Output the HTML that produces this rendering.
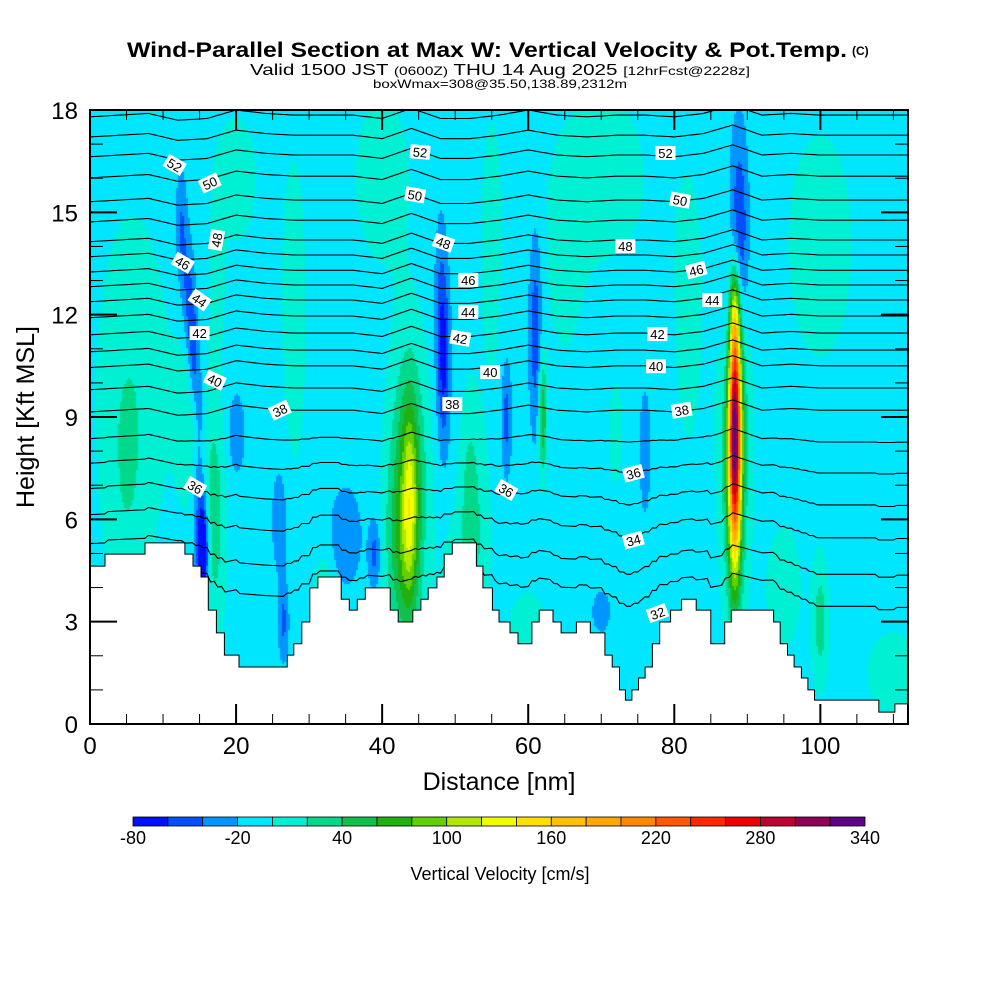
<!DOCTYPE html>
<html><head><meta charset="utf-8">
<style>
html,body{margin:0;padding:0;background:#fff;}
#wrap{position:relative;width:1000px;height:1000px;overflow:hidden;}
canvas{position:absolute;left:90px;top:110px;}
svg{position:absolute;left:0;top:0;}
text{font-family:"Liberation Sans",Arial,sans-serif;}
</style></head>
<body>
<div id="wrap">
<canvas id="field" width="818" height="614"></canvas>
<svg id="svg" width="1000" height="1000">
<g>
<text x="127" y="57" font-size="21" font-weight="bold" textLength="720" lengthAdjust="spacingAndGlyphs">Wind-Parallel Section at Max W: Vertical Velocity &amp; Pot.Temp.</text>
<text x="852" y="55" font-size="12" font-weight="bold">(C)</text>
<text x="250" y="75" font-size="16" textLength="500" lengthAdjust="spacingAndGlyphs">Valid 1500 JST <tspan font-size="12">(0600Z)</tspan> THU 14 Aug 2025 <tspan font-size="12">[12hrFcst@2228z]</tspan></text>
<text x="373" y="88" font-size="12" textLength="254" lengthAdjust="spacingAndGlyphs">boxWmax=308@35.50,138.89,2312m</text>
</g>
<g id="contours"></g>
<g id="terrain"></g>
<g id="labels"></g>
<g id="axes"></g>
<g id="cbar"></g>
<text x="499" y="790" font-size="25" text-anchor="middle">Distance [nm]</text>
<text transform="translate(34,417) rotate(-90)" font-size="25" text-anchor="middle">Height [Kft MSL]</text>
<text x="500" y="880" font-size="18" text-anchor="middle">Vertical Velocity [cm/s]</text>
</svg>
</div>
<script>
// ---- data ----
const xTicks = [0,20,40,60,80,100];
const yTicks = [0,3,6,9,12,15,18];
const cbarLevels = [-80,-20,40,100,160,220,280,340];
const cbarColors = ["#0010ff","#0050ff","#0096ff","#00e6ff","#00f0d4","#00d88c","#10c048","#20b010","#60d000","#b0e800","#f0ff00","#ffe000","#ffc000","#ffa800","#ff8800","#ff5800","#ff2800","#f00000","#c00030","#900058","#600088"];
// blobs: distance (nm), height (kft), amplitude (cm/s), sigma-d (nm), sigma-h (kft)
const blobD = [88.3,88.3,88.3,88.8,87.5, 43.8,43.6,42.5, 12.5,13.5,14.2,15,15.5,15, 17,14,17.5,6, 20,26,26.5,35,39, 48.5,48,57,61,62,52,53, 32,60,72,100,95,110, 76,70, 40,70,20,100,65, 28,55,82,5,50];
const blobH = [8.5,8.5,12,14,11.5, 6.5,7,5, 14.5,12.5,11,9.5,5,6.5, 6,9,13,10, 8.5,6,3,5.5,5, 10.5,12,9,11.5,9,7,5, 3.5,2.5,8.5,3,4,1.5, 8,3.3, 16,16,16,14,13, 12,14,12,7,4];
const blobA = [300,60,60,-70,-30, 75,58,35, -35,-40,-48,-33,-90,-42, 40,25,25,20, -30,-25,-35,-28,-40, -45,-30,-40,-45,70,30,20, 30,25,30,40,20,20, -30,-20, 20,20,15,18,15, 18,15,15,18,20];
const blobSD = [0.6,1.4,0.5,0.9,0.8, 0.8,1.9,1.5, 0.6,0.6,0.5,0.6,0.5,0.7, 1.2,1.5,0.6,4, 0.8,0.8,0.5,1.5,0.6, 0.6,0.6,0.5,0.6,0.4,1,1.5, 1,2,0.6,0.8,2,3, 0.5,1, 3,5,3,4,2, 1.5,1.5,2,2,1.5];
const blobSH = [2.6,3.6,1,2.2,1.5, 2,3,2, 1.2,1.2,1,1,1,1.5, 2.5,2,1.5,4, 0.8,1.2,0.8,1,0.7, 1.8,2,1.2,2,1.2,2,2, 1,1,1,1.3,1.5,1, 1.2,0.5, 2,2,2,3,2, 4,4,4,3,1.5];
const baseW = -10;
// terrain step profile
const terrD = [0,2.05,7.53,13.0,14.1,15.2,16.2,17.3,18.4,20.4,27.0,27.9,29.0,30.1,31.2,34.4,35.5,36.6,37.7,41.1,42.2,44.2,45.3,46.3,47.5,48.5,49.6,52.9,53.8,55.1,56.0,57.5,58.6,60.5,61.5,63.4,64.5,66.6,68.5,70.5,71.5,72.5,73.3,74.2,75.1,76.0,77.0,78.0,79.5,81.0,83.0,85.0,86.9,87.8,93.6,94.5,95.5,96.4,97.4,98.3,99.2,108.0,110.2];
const terrH = [4.63,4.98,5.31,4.98,4.63,4.31,3.34,2.67,2.02,1.67,2.02,2.35,2.99,3.99,4.31,3.66,3.34,3.66,3.99,3.34,2.99,3.34,3.66,3.99,4.31,4.98,5.31,4.63,3.99,3.34,2.99,2.67,2.35,2.99,3.34,2.99,2.67,2.99,2.67,2.02,1.67,1.0,0.7,1.0,1.35,1.67,2.35,2.99,3.34,3.66,3.34,2.35,2.99,3.34,2.99,2.35,2.02,1.67,1.35,1.0,0.7,0.35,0.59];
// potential temperature contours
const thetaLevels = [32,33,34,35,36,37,38,39,40,41,42,43,44,45,46,47,48,49,50,51,52,53,54];
const thetaBaseH = [3.25,4.22,5.33,6.33,7.3,8.24,9.2,9.85,10.5,10.96,11.46,11.96,12.43,12.87,13.3,13.75,14.19,14.77,15.36,16.06,16.68,17.26,17.85];
const pertD = [0,4,8,12,16,20,24,28,32,36,40,44,48,52,56,60,64,68,72,76,80,84,88,92,96,100,104,108,112];
const pertH = [-0.05,0,0.05,-0.15,-0.1,0.15,0.05,0,0,0,-0.1,0.2,-0.1,-0.1,0,0.15,0,-0.05,0,0,-0.05,0.05,0.3,0,0.05,0,0,0,0];
const labelText = [52,50,48,46,44,42,40,38,36, 52,50,48,46,44,42,40,38,36, 52,50,48,46,44,42,40,38,36,34,32];
const labelD = [11.6,16.4,17.3,12.7,15,15,17.1,26,14.4, 45.2,44.5,48.4,51.8,51.8,50.7,54.8,49.6,57, 78.8,80.8,73.3,83,85.2,77.7,77.5,81,74.4,74.4,77.7];
const labelH = [16.39,15.86,14.19,13.52,12.43,11.46,10.08,9.2,6.95, 16.77,15.51,14.11,13.02,12.08,11.31,10.32,9.38,6.86, 16.74,15.36,14.01,13.31,12.43,11.43,10.49,9.2,7.35,5.39,3.25];
const labelRot = [30,-25,-80,30,35,0,25,-25,30, 5,10,20,0,0,10,0,0,30, 0,10,0,-15,0,0,0,-10,-15,-15,-20];

// ---- scales ----
const X0=90,X1=908,Y0=724,Y1=110;
const xs = d => X0 + d*(X1-X0)/112;
const ys = h => Y0 - h*(Y0-Y1)/18;
const NS="http://www.w3.org/2000/svg";
function mk(tag, attrs, parent){const e=document.createElementNS(NS,tag);for(const k in attrs)e.setAttribute(k,attrs[k]);parent.appendChild(e);return e;}
function terrAt(d){let h=terrH[0];for(let i=0;i<terrD.length;i++){if(d>=terrD[i])h=terrH[i];}return h;}
function pertAt(d){for(let i=0;i<pertD.length-1;i++){if(d<=pertD[i+1]){const t=(d-pertD[i])/(pertD[i+1]-pertD[i]);return pertH[i]+t*(pertH[i+1]-pertH[i]);}}return pertH[pertH.length-1];}
function wAt(d,h){let w=baseW;for(let i=0;i<blobD.length;i++){const a=(d-blobD[i])/blobSD[i],b=(h-blobH[i])/blobSH[i];const q=a*a+b*b;if(q<20)w+=blobA[i]*Math.exp(-0.5*q);}return w;}
function colorFor(w){let i=Math.floor((w+80)/20);if(i<0)i=0;if(i>20)i=20;return cbarColors[i];}

// ---- field ----
const cv=document.getElementById('field'),cx=cv.getContext('2d');
const C=2;
for(let px=0;px<818;px+=C){for(let py=0;py<614;py+=C){
  const d=(px+C/2)*112/818, h=(614-py-C/2)*18/614;
  cx.fillStyle=colorFor(wAt(d,h));cx.fillRect(px,py,C,C);
}}

// ---- contours ----
const cg=document.getElementById('contours');
thetaLevels.forEach((th,i)=>{
  let pts=[];
  for(let d=0;d<=112.01;d+=0.5){
    const base=thetaBaseH[i];
    const lift=0.45*terrAt(d)*Math.max(0,(9-base)/9);
    const h=base+pertAt(d)*(0.5+0.5*Math.min(1,base/8))+lift;
    pts.push(xs(d).toFixed(1)+","+ys(Math.min(h,18)).toFixed(1));
  }
  const p=mk('polyline',{points:pts.join(' '),fill:'none',stroke:'#000','stroke-width':1.1},cg);
  
  
});

// ---- terrain ----
const tg=document.getElementById('terrain');
let tp=[xs(0)+","+Y0];
for(let i=0;i<terrD.length;i++){
  const x=xs(terrD[i]),y=ys(terrH[i]);
  if(i>0)tp.push(x.toFixed(1)+","+ys(terrH[i-1]).toFixed(1));
  tp.push(x.toFixed(1)+","+y.toFixed(1));
}
tp.push(X1+","+ys(terrH[terrH.length-1]).toFixed(1));tp.push(X1+","+Y0);
const tpoly=mk('polygon',{points:tp.join(' '),fill:'#fff',stroke:'#000','stroke-width':1},tg);



// ---- labels ----
const lg=document.getElementById('labels');
labelText.forEach((t,i)=>{
  const g=mk('g',{transform:`translate(${xs(labelD[i]).toFixed(1)},${ys(labelH[i]).toFixed(1)}) rotate(${labelRot[i]})`},lg);
  
  
  mk('rect',{x:-10,y:-7,width:20,height:14,fill:'#fff'},g);
  const tx=mk('text',{x:0,y:5,'font-size':13,'text-anchor':'middle','font-family':'Liberation Serif, serif'},g);
  tx.textContent=t;
});

// ---- axes ----
const ag=document.getElementById('axes');
const fr=mk('rect',{x:X0,y:Y1,width:X1-X0,height:Y0-Y1,fill:'none',stroke:'#000','stroke-width':2},ag);


for(let d=0;d<=112;d+=5){
  const major=d%20===0, L=major?20:10, x=xs(d);
  mk('line',{x1:x,y1:Y0,x2:x,y2:Y0-L,stroke:'#000','stroke-width':major?2:1},ag);
  mk('line',{x1:x,y1:Y1,x2:x,y2:Y1+L,stroke:'#000','stroke-width':major?2:1},ag);
}
for(let h=0;h<=18;h+=1){
  const major=h%3===0, L=major?27:13, y=ys(h);
  mk('line',{x1:X0,y1:y,x2:X0+L,y2:y,stroke:'#000','stroke-width':major?2:1},ag);
  mk('line',{x1:X1,y1:y,x2:X1-L,y2:y,stroke:'#000','stroke-width':major?2:1},ag);
}
xTicks.forEach(v=>{const t=mk('text',{x:xs(v),y:754,'font-size':24,'text-anchor':'middle'},ag);t.textContent=v;
  });
yTicks.forEach(v=>{const t=mk('text',{x:78,y:ys(v)+9,'font-size':24,'text-anchor':'end'},ag);t.textContent=v;
  });

// ---- colorbar ----
const bg=document.getElementById('cbar');
const CB0=133,CB1=865,CBY=817,CBH=9;
const cs=v=>CB0+(v+80)*(CB1-CB0)/420;
cbarColors.forEach((c,i)=>{
  const r=mk('rect',{x:cs(-80+i*20),y:CBY,width:(CB1-CB0)/21,height:CBH,fill:c,stroke:'#000','stroke-width':0.8},bg);
  
  
});
cbarLevels.forEach(v=>{const t=mk('text',{x:cs(v),y:844,'font-size':18,'text-anchor':'middle'},bg);t.textContent=v;
  });
</script>
</body></html>
